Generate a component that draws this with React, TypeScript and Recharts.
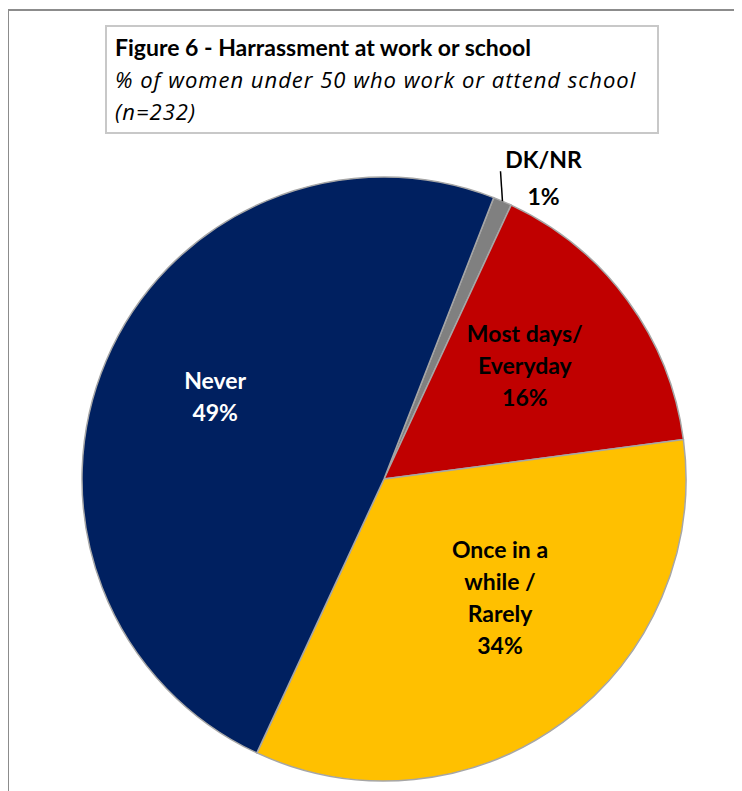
import { PieChart, Pie, Cell } from "recharts";

const categories = ["DK/NR", "Most days/ Everyday", "Once in a while / Rarely", "Never"];
const values = [1, 16, 34, 49];
const labelLines = [
  ["DK/NR", "1%"],
  ["Most days/", "Everyday", "16%"],
  ["Once in a", "while /", "Rarely", "34%"],
  ["Never", "49%"],
];
const colors = ["#808080", "#c00000", "#ffc000", "#002060"];
const labelColors = ["#000000", "#000000", "#000000", "#ffffff"];
// label placement: fraction of radius and angle nudge (degrees)
const labelRatio = [1, 0.6, 0.548, 0.623];
const labelNudge = [0, 2.7, 8.2, -3.1];

const data = categories.map((name, i) => ({ name, value: values[i] }));

const FONT = "Lato, 'Open Sans', sans-serif";
const RAD = Math.PI / 180;

function renderLabel(props: any) {
  const { cx, cy, midAngle, outerRadius, index } = props;
  const lines = labelLines[index];
  const lh = 32;
  if (index === 0) {
    // outside label with leader line
    const x1 = cx + outerRadius * Math.cos(-midAngle * RAD);
    const y1 = cy + outerRadius * Math.sin(-midAngle * RAD);
    const x2 = x1 - 2;
    const y2 = y1 - 30;
    const tx = x1 + 41;
    const ty = y2 - 12;
    return (
      <g>
        <line x1={x1} y1={y1} x2={x2} y2={y2} stroke="#000" strokeWidth={1.5} />
        {lines.map((t, k) => (
          <text key={k} x={tx} y={ty + k * 37} textAnchor="middle" dominantBaseline="central"
            fontFamily={FONT} fontWeight="bold" fontSize={23} fill={labelColors[index]}>{t}</text>
        ))}
      </g>
    );
  }
  const r = outerRadius * labelRatio[index];
  const a = midAngle + labelNudge[index];
  const x = cx + r * Math.cos(-a * RAD);
  const y = cy + r * Math.sin(-a * RAD);
  const top = y - ((lines.length - 1) * lh) / 2;
  return (
    <g>
      {lines.map((t, k) => (
        <text key={k} x={x} y={top + k * lh} textAnchor="middle" dominantBaseline="central"
          fontFamily={FONT} fontWeight="bold" fontSize={23} fill={labelColors[index]}>{t}</text>
      ))}
    </g>
  );
}

export default function App() {
  return (
    <div style={{ position: "relative", width: 734, height: 783, overflow: "hidden", fontFamily: FONT, background: "#fff" }}>
      <div style={{ position: "absolute", left: -1, top: 1, width: 800, height: 800, borderTop: "2px solid #8c8c8c", borderLeft: "2px solid #8c8c8c" }} />
      <PieChart width={734} height={783} margin={{ top: 0, right: 0, bottom: 0, left: 0 }} style={{ position: "absolute", left: 0, top: 0 }}>
        <Pie
          data={data}
          dataKey="value"
          nameKey="name"
          cx={376}
          cy={471}
          outerRadius={302}
          startAngle={68.7}
          endAngle={-291.3}
          stroke="#a6a6a6"
          strokeWidth={1.5}
          label={renderLabel}
          labelLine={false}
          isAnimationActive={false}
        >
          {data.map((d, i) => (
            <Cell key={d.name} fill={colors[i]} />
          ))}
        </Pie>
      </PieChart>
      <div style={{ position: "absolute", left: 97, top: 17, width: 542, height: 101, border: "2px solid #c8c8c8", background: "#fff", padding: "4px 0 0 8px", lineHeight: "32px", color: "#000" }}>
        <div style={{ fontWeight: "bold", fontSize: 23 }}>Figure 6 - Harrassment at work or school</div>
        <div style={{ fontStyle: "italic", fontSize: 22, letterSpacing: 1, fontFamily: "'Open Sans', sans-serif" }}>% of women under 50 who work or attend school</div>
        <div style={{ fontStyle: "italic", fontSize: 22, letterSpacing: 1, fontFamily: "'Open Sans', sans-serif" }}>(n=232)</div>
      </div>
    </div>
  );
}
